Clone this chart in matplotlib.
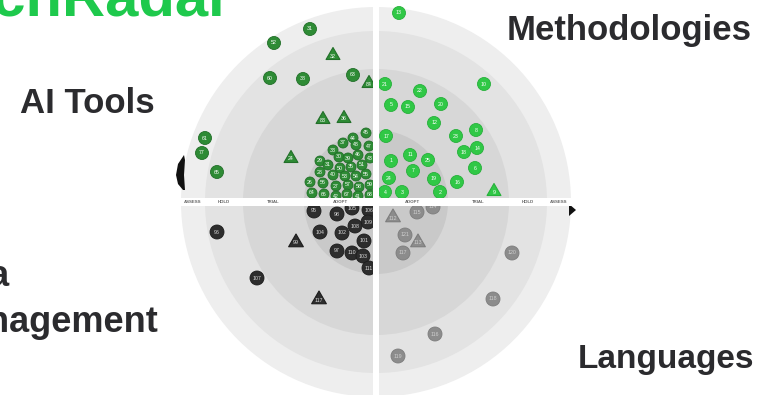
import numpy as np
import matplotlib.pyplot as plt
from matplotlib.patches import Circle, Rectangle, RegularPolygon, Polygon

plt.rcParams['font.family'] = ['Liberation Sans', 'DejaVu Sans']

# rings from the centre outwards, outer radius in px
rings = ['ADOPT', 'TRIAL', 'HOLD', 'ASSESS']
ring_radius = [72, 133, 171, 195]
ring_colors = ['#c9c9c9', '#d7d7d7', '#e3e3e3', '#eeeeee']

# blips: number and offset from the radar centre (x right, y up)
ai_ids = [31, 52, 32, 60, 38, 63, 84, 61, 77, 65, 24, 83, 36,
          45, 44, 37, 48, 47, 33, 30, 39, 46, 43, 29, 31, 50, 35, 51,
          28, 40, 53, 54, 55, 26, 56, 27, 57, 58, 59, 64, 66, 42, 67, 41, 68]
ai_dx = [-66, -102, -43, -106, -73, -23, -7, -171, -174, -159, -85, -53, -32,
         -10, -23, -33, -20, -7, -43, -37, -28, -18, -6, -56, -48, -36, -25, -14,
         -56, -43, -31, -20, -10, -66, -53, -40, -28, -17, -6, -64, -52, -40, -29, -18, -6]
ai_dy = [173, 159, 148, 124, 123, 127, 120, 64, 49, 30, 45, 84, 85,
         69, 64, 59, 57, 56, 52, 45, 44, 47, 44, 41, 37, 34, 35, 37,
         30, 27, 26, 26, 28, 20, 19, 16, 17, 15, 17, 9, 8, 6, 8, 6, 7]
ai_tri = [32, 84, 24, 83, 36]

meth_ids = [13, 21, 22, 10, 5, 15, 20, 12, 17, 23, 8, 14, 18, 11, 25,
            1, 7, 6, 24, 19, 16, 4, 3, 2, 9]
meth_dx = [23, 9, 44, 108, 15, 32, 65, 58, 10, 80, 100, 101, 88, 34, 52,
           15, 37, 99, 13, 58, 81, 9, 26, 64, 118]
meth_dy = [189, 118, 111, 118, 97, 95, 98, 79, 66, 66, 72, 54, 50, 47, 42,
           41, 31, 34, 24, 23, 20, 10, 10, 10, 12]
meth_tri = [9]

data_ids = [96, 95, 98, 105, 106, 109, 104, 108, 102, 101, 99, 97, 110,
            103, 111, 107, 117]
data_dx = [-159, -62, -39, -24, -7, -8, -56, -21, -34, -12, -80, -39, -24,
           -13, -7, -119, -57]
data_dy = [-30, -9, -12, -6, -8, -20, -30, -24, -31, -39, -39, -49, -51,
           -54, -66, -76, -96]
data_tri = [99, 117]

lang_ids = [112, 115, 114, 121, 113, 117, 120, 118, 116, 119]
lang_dx = [17, 41, 57, 29, 42, 27, 136, 117, 59, 22]
lang_dy = [-14, -10, -5, -33, -39, -51, -51, -97, -132, -154]
lang_tri = [112, 113]

cx, cy = 376, 202

fig = plt.figure(figsize=(7.75, 3.95), dpi=100)
ax = fig.add_axes([0, 0, 1, 1])
ax.set_xlim(0, 775)
ax.set_ylim(395, 0)
ax.axis('off')

# rings, biggest first
for r, c in reversed(list(zip(ring_radius, ring_colors))):
    ax.add_patch(Circle((cx, cy), r, color=c, lw=0, zorder=1))

# white gaps between the quadrants
ax.add_patch(Rectangle((cx - 3, 0), 6, 395, color='white', lw=0, zorder=4))
ax.add_patch(Rectangle((cx - 198, cy - 4), 396, 8, color='white', lw=0, zorder=4))

# ring names on the horizontal gap
inner = [0] + ring_radius[:-1]
for name, r0, r1 in zip(rings, inner, ring_radius):
    mid = (r0 + r1) / 2
    for side in (-1, 1):
        ax.text(cx + side * mid, cy, name, fontsize=3.2, fontweight='bold',
                color='#666666', ha='center', va='center', zorder=5)


def draw_blips(ids, dx, dy, tri, face, edge, txt, size, small_core=False):
    for n, x, y in zip(ids, dx, dy):
        r = size
        if small_core and np.hypot(x, y) < ring_radius[0]:
            r = size - 1.5
        px, py = cx + x, cy - y
        if n in tri:
            # y axis runs downwards, so turn the triangle to point up
            ax.add_patch(RegularPolygon((px, py + 1.5), 3, radius=r + 1.5,
                                        orientation=np.pi,
                                        facecolor=face, edgecolor=edge,
                                        lw=0.8, joinstyle='round', zorder=3))
            py += 2
        else:
            ax.add_patch(Circle((px, py), r, facecolor=face, edgecolor=edge,
                                lw=0.6, zorder=3))
        ax.text(px, py, str(n), fontsize=3.8, color=txt,
                ha='center', va='center', zorder=3.5)


draw_blips(ai_ids, ai_dx, ai_dy, ai_tri, '#2e8b35', '#226f29', 'white', 6.5, small_core=True)
draw_blips(meth_ids, meth_dx, meth_dy, meth_tri, '#30c846', '#27b03b', 'white', 6.5)
draw_blips(data_ids, data_dx, data_dy, data_tri, '#2d2d2d', '#1c1c1c', '#dddddd', 7)
draw_blips(lang_ids, lang_dx, lang_dy, lang_tri, '#8c8c8c', '#7d7d7d', '#cfcfcf', 7)

# small dark markers at the radar edge
ax.add_patch(Polygon([(184, 155), (178, 164), (176, 175), (178, 184), (183, 190),
                      (185, 190), (184, 175), (185, 160)],
                     closed=True, color='#111111', lw=0, zorder=2))
ax.add_patch(Polygon([(569, 204), (576, 210), (569, 216)],
                     closed=True, color='#111111', lw=0, zorder=2))

# title and quadrant names
ax.text(232, 15, 'TechRadar', fontsize=43, fontweight='bold', color='#1ec94c',
        ha='right', va='baseline')
ax.text(155, 113, 'AI Tools', fontsize=25, fontweight='bold', color='#2b2b2e',
        ha='right', va='baseline')
ax.text(507, 40, 'Methodologies', fontsize=25, fontweight='bold', color='#2b2b2e',
        ha='left', va='baseline')
ax.text(578, 368, 'Languages', fontsize=24, fontweight='bold', color='#2b2b2e',
        ha='left', va='baseline')
ax.text(-68, 286, 'Data', fontsize=26, fontweight='bold', color='#2b2b2e',
        ha='left', va='baseline')
ax.text(-62, 332, 'Management', fontsize=26, fontweight='bold', color='#2b2b2e',
        ha='left', va='baseline')

fig.savefig('out.png', dpi=100)
